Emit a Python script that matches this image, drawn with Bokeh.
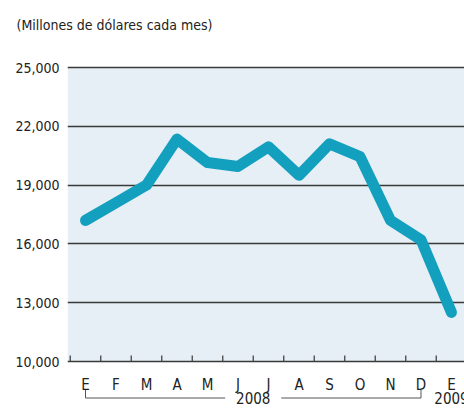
from bokeh.plotting import figure
from bokeh.models import Range1d, FixedTicker, NumeralTickFormatter, BoxAnnotation
from bokeh.core.properties import value
from bokeh.embed import file_html
from bokeh.resources import INLINE

# ---- data ----
months = ["E", "F", "M", "A", "M", "J", "J", "A", "S", "O", "N", "D", "E"]
exports = [17200, 18100, 19000, 21350, 20150, 19950, 20950, 19500, 21100, 20450, 17200, 16200, 12500]
y_ticks = [10000, 13000, 16000, 19000, 22000, 25000]
year_labels = ["2008", "2009"]
subtitle = "(Millones de dólares cada mes)"

# ---- layout constants ----
FONT = "DejaVu Sans Condensed"
TXT = "#222222"
W, H = 464, 409
LEFT = 67                # frame left
FRAME_TOP = 37           # frame top (white area above the band)
TOP_SY = 67              # canvas y of the highest tick line
BASE_SY = 361            # canvas y of the lowest tick line
PX_X = 30.5              # pixels per month
FIRST_X_PX = 18          # first data point offset from frame left
y_base, y_top = y_ticks[0], y_ticks[-1]
PX_Y = (BASE_SY - TOP_SY) / (y_top - y_base)
y_start = y_base - (H - BASE_SY) / PX_Y
y_end = y_top + (TOP_SY - FRAME_TOP) / PX_Y
x_start = -FIRST_X_PX / PX_X
x_end = x_start + (W - LEFT) / PX_X

p = figure(width=W, height=H, output_backend="svg", toolbar_location=None,
           x_range=Range1d(x_start, x_end),
           y_range=Range1d(y_start, y_end),
           x_axis_location=None,
           min_border_left=LEFT, min_border_top=FRAME_TOP,
           min_border_right=0, min_border_bottom=0)
p.outline_line_color = None
p.background_fill_color = "white"
p.border_fill_color = "white"

# subtitle as the plot title
p.title.text = subtitle
p.title.align = "left"
p.title.offset = 16 - LEFT
p.title.standoff = 10
p.title.text_font = FONT
p.title.text_font_size = "14px"
p.title.text_font_style = "normal"
p.title.text_color = TXT

# plot band background
p.add_layout(BoxAnnotation(bottom=y_base, top=y_top, fill_color="#e6eff5",
                           fill_alpha=1, line_color=None, level="image"))

# grid
p.xgrid.visible = False
p.ygrid.ticker = FixedTicker(ticks=y_ticks)
p.ygrid.grid_line_color = "#3a3a3a"
p.ygrid.grid_line_width = 1.3

# y axis
p.yaxis.ticker = FixedTicker(ticks=y_ticks)
p.yaxis.formatter = NumeralTickFormatter(format="0,0")
p.yaxis.axis_line_color = None
p.yaxis.major_tick_line_color = None
p.yaxis.minor_tick_line_color = None
p.yaxis.major_label_standoff = 2
p.yaxis.major_label_text_font = FONT
p.yaxis.major_label_text_font_size = "14px"
p.yaxis.major_label_text_color = TXT

# month ticks (between months)
idx = list(range(len(months)))
bounds = [i - 0.5 for i in idx[:-1]] + [idx[-2] + 0.5]
p.segment(x0=bounds, y0=[y_base] * len(bounds), x1=bounds,
          y1=[y_base + 6 / PX_Y] * len(bounds), line_color="#444444", line_width=1.3)

# data line
p.line(idx, exports, line_width=11, line_color="#139fbe",
       line_cap="round", line_join="round")

# month labels
p.text(x=idx, y=[y_base] * len(idx), text=months, y_offset=23,
       text_align="center", text_baseline="middle",
       text_font=value(FONT), text_font_size="15px", text_color=TXT)

# year bracket
yb = y_base - 36.5 / PX_Y
yt = y_base - 28.5 / PX_Y
first, last = idx[0], idx[-2]
mid = (first + last) / 2
gap = 0.92
p.segment(x0=[first, first, mid + gap, last], y0=[yt, yb, yb, yt],
          x1=[first, mid - gap, last, last], y1=[yb, yb, yb, yb],
          line_color="#555555", line_width=1)
p.text(x=[mid, idx[-1]], y=[yb, yb], text=year_labels,
       text_align="center", text_baseline="middle",
       text_font=value(FONT), text_font_size="15px", text_color=TXT)

open("out.html", "w").write(file_html(p, INLINE))
